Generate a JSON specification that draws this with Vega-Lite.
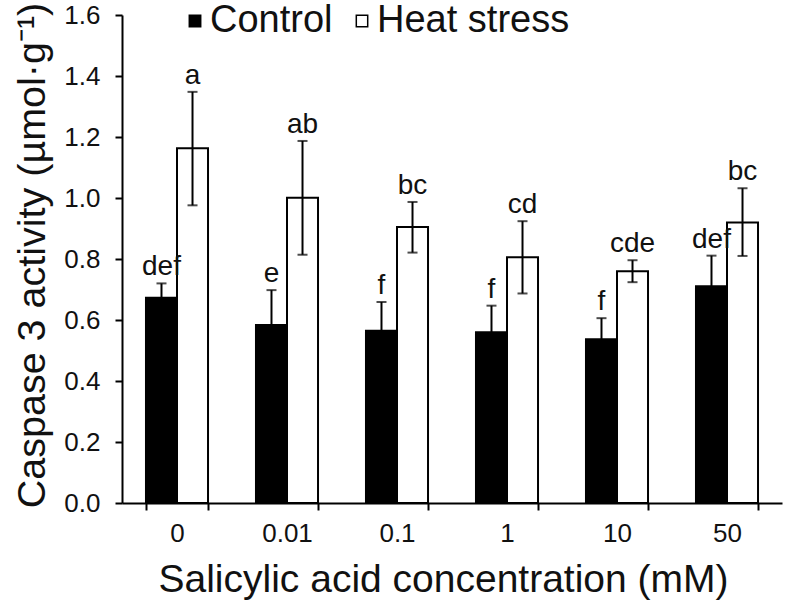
{
  "$schema": "https://vega.github.io/schema/vega-lite/v6.json",
  "width": 660,
  "height": 488,
  "autosize": {"type": "none"},
  "padding": {"left": 122, "top": 15, "right": 5, "bottom": 103},
  "background": "white",
  "config": {
    "view": {"stroke": null},
    "font": "Liberation Sans",
    "axis": {"labelColor": "#111", "titleColor": "#111", "domainColor": "black", "tickColor": "black", "domainWidth": 2, "tickWidth": 2, "tickSize": 7, "grid": false, "labelFontSize": 26, "titleFontSize": 39, "titleFontWeight": "normal"}
  },
  "data": {
    "values": [
      {"conc": "0", "group": "Control", "mean": 0.673, "lo": 0.626, "hi": 0.720, "label": "def"},
      {"conc": "0", "group": "Heat stress", "mean": 1.163, "lo": 0.976, "hi": 1.348, "label": "a"},
      {"conc": "0.01", "group": "Control", "mean": 0.584, "lo": 0.470, "hi": 0.698, "label": "e"},
      {"conc": "0.01", "group": "Heat stress", "mean": 1.001, "lo": 0.814, "hi": 1.187, "label": "ab"},
      {"conc": "0.1", "group": "Control", "mean": 0.565, "lo": 0.471, "hi": 0.659, "label": "f"},
      {"conc": "0.1", "group": "Heat stress", "mean": 0.905, "lo": 0.821, "hi": 0.987, "label": "bc"},
      {"conc": "1", "group": "Control", "mean": 0.560, "lo": 0.473, "hi": 0.647, "label": "f"},
      {"conc": "1", "group": "Heat stress", "mean": 0.806, "lo": 0.687, "hi": 0.924, "label": "cd"},
      {"conc": "10", "group": "Control", "mean": 0.537, "lo": 0.468, "hi": 0.606, "label": "f"},
      {"conc": "10", "group": "Heat stress", "mean": 0.760, "lo": 0.724, "hi": 0.796, "label": "cde"},
      {"conc": "50", "group": "Control", "mean": 0.711, "lo": 0.611, "hi": 0.811, "label": "def"},
      {"conc": "50", "group": "Heat stress", "mean": 0.920, "lo": 0.810, "hi": 1.032, "label": "bc"}
    ]
  },
  "encoding": {
    "x": {
      "field": "conc", "type": "nominal", "sort": ["0", "0.01", "0.1", "1", "10", "50"],
      "scale": {"paddingInner": 0.436, "paddingOuter": 0.218},
      "axis": {"title": "Salicylic acid concentration (mM)", "labelAngle": 0, "tickBand": "extent", "labelPadding": 10, "titlePadding": 14, "titleX": 321}
    },
    "xOffset": {"field": "group", "type": "nominal", "sort": ["Control", "Heat stress"], "scale": {"paddingInner": 0, "paddingOuter": 0}}
  },
  "layer": [
    {
      "mark": {"type": "bar", "stroke": "black", "strokeWidth": 2},
      "encoding": {
        "y": {
          "field": "mean", "type": "quantitative",
          "scale": {"domain": [0, 1.6], "nice": false},
          "axis": {"title": "Caspase 3 activity (µmol·g⁻¹)", "titleFontSize": 39.5, "titleY": 240, "values": [0, 0.2, 0.4, 0.6, 0.8, 1.0, 1.2, 1.4, 1.6], "format": ".1f", "labelPadding": 15, "titlePadding": 11}
        },
        "fill": {
          "field": "group", "type": "nominal",
          "scale": {"domain": ["Control", "Heat stress"], "range": ["black", "white"]},
          "legend": {"title": null, "orient": "none", "legendX": 54, "legendY": -13, "direction": "horizontal", "symbolType": "square", "symbolSize": 130, "symbolStrokeColor": "black", "symbolStrokeWidth": 1.5, "labelFontSize": 38, "labelColor": "#111", "labelOffset": -4, "columnPadding": 10, "labelLimit": 400}
        }
      }
    },
    {
      "mark": {"type": "rule", "color": "black", "strokeWidth": 2},
      "encoding": {
        "y": {"field": "lo", "type": "quantitative"},
        "y2": {"field": "hi"}
      }
    },
    {
      "mark": {"type": "tick", "color": "black", "thickness": 2, "size": 10},
      "encoding": {"y": {"field": "hi", "type": "quantitative"}}
    },
    {
      "mark": {"type": "tick", "color": "black", "thickness": 2, "size": 10},
      "encoding": {"y": {"field": "lo", "type": "quantitative"}}
    },
    {
      "mark": {"type": "text", "fontSize": 28, "dy": -8, "baseline": "alphabetic", "color": "#111"},
      "encoding": {
        "y": {"field": "hi", "type": "quantitative"},
        "text": {"field": "label"}
      }
    }
  ]
}
